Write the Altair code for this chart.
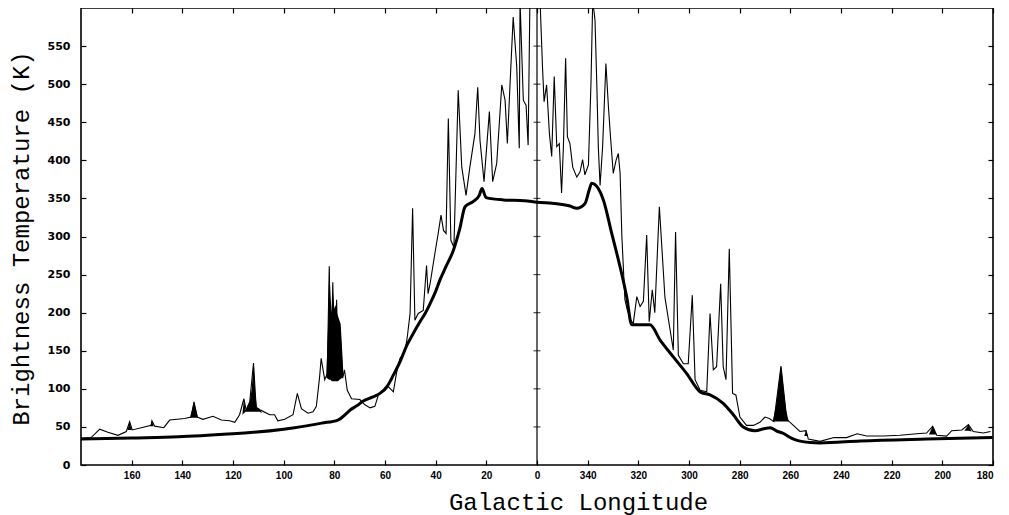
import altair as alt
import numpy as np
import pandas as pd

# ---- observed brightness temperature (thin trace), galactic longitude in degrees ----
thin_lon = [180.0, 176.0, 172.6, 169.4, 165.4, 162.1, 160.8, 159.8, 156.2, 152.3, 152.0, 150.9,
            147.3, 145.0, 139.1, 136.5, 135.4, 134.1, 131.9, 127.9, 124.6, 121.3, 119.3, 117.4,
            115.7, 114.8, 113.4, 111.9, 110.8, 109.1, 105.5, 103.6, 102.3, 99.6, 96.3, 94.6,
            93.0, 90.4, 88.4, 87.1, 85.8, 85.2, 83.8, 82.8, 82.0, 81.4, 80.6, 80.0, 79.1, 78.4,
            77.8, 76.7, 76.0, 74.9, 73.2, 69.9, 67.9, 65.9, 64.0, 62.6, 60.0, 58.7, 56.7, 55.4,
            54.1, 52.1, 51.2, 50.1, 49.1, 48.2, 46.9, 44.9, 43.6, 43.0, 42.2, 40.3, 39.0, 37.9,
            36.9, 35.9, 35.0, 34.0, 32.8, 31.1, 29.7, 28.0, 26.5, 24.5, 23.4, 22.5, 20.9, 18.8,
            17.5, 15.9, 13.9, 12.6, 11.7, 10.7, 9.4, 8.0, 7.0, 6.7, 5.4, 4.3, 3.5, 2.8, 1.5, 0.5,
            359.5, 358.8, 357.8, 357.2, 356.2, 355.1, 354.2, 353.2, 352.2, 351.2, 350.3, 349.6,
            348.7, 348.0, 347.0, 345.9, 344.3, 343.0, 342.0, 341.1, 339.7, 338.7, 338.0, 337.1,
            336.4, 335.8, 335.1, 334.1, 332.8, 331.8, 330.9, 329.9, 328.8, 327.9, 327.2, 326.5,
            325.3, 324.4, 323.0, 322.0, 320.6, 319.3, 318.0, 316.7, 315.7, 314.5, 313.5, 311.7,
            309.5, 306.2, 305.3, 304.2, 302.2, 300.3, 298.7, 297.6, 295.6, 293.0, 291.7, 290.4,
            289.1, 287.5, 286.5, 285.4, 284.1, 282.8, 281.5, 279.9, 277.3, 274.6, 272.0, 270.0,
            268.3, 266.5, 263.7, 261.4, 258.8, 256.2, 253.8, 252.9, 248.3, 242.8, 237.8, 233.6,
            229.9, 223.3, 216.7, 210.1, 206.2, 203.8, 202.2, 198.3, 196.3, 192.3, 189.7, 187.8,
            183.8, 181.0]
thin_tb = [35, 36, 47, 43, 39, 44, 57, 46, 49, 52, 58, 51,
           49, 59, 61, 63, 83, 63, 60, 64, 59, 58, 56, 66,
           87, 72, 83, 134, 72, 72, 66, 66, 58, 60, 66, 94,
           74, 68, 70, 77, 116, 140, 112, 120, 261, 116, 240, 125, 217, 112,
           181, 114, 125, 98, 87, 86, 79, 75, 77, 92, 98, 103, 96, 122,
           140, 149, 168, 199, 337, 190, 199, 203, 262, 225, 238, 278, 304, 328,
           308, 304, 455, 295, 286, 492, 391, 354, 391, 435, 496, 426, 372, 464,
           372, 396, 499, 479, 422, 496, 588, 523, 416, 610, 479, 472, 420, 610, 610, 610,
           610, 610, 520, 477, 499, 435, 405, 510, 418, 422, 357, 416,
           534, 431, 422, 391, 378, 385, 401, 381, 394, 501, 610, 584,
           501, 418, 367, 418, 527, 470, 427, 383, 400, 409, 383, 300,
           217, 204, 190, 186, 221, 208, 215, 302, 188, 230, 200, 339,
           220, 151, 306, 144, 133, 133, 223, 112, 98, 96, 199, 125,
           129, 238, 129, 112, 284, 94, 92, 63, 52, 52, 56, 63,
           61, 57, 130, 60, 52, 44, 45, 34, 31, 36, 36, 41,
           38, 38, 39, 41, 42, 51, 39, 38, 45, 46, 53, 44,
           42, 44]

# ---- smooth background (thick trace) ----
thick_lon = [180.0, 160.0, 141.7, 120.0, 115.4, 100.0, 95.7, 85.0, 78.6, 75.1, 73.8, 71.0,
             68.6, 65.0, 62.0, 59.0, 56.7, 54.0, 51.4, 48.8, 46.2, 44.0, 42.2, 40.0, 38.3,
             36.0, 33.0, 30.5, 28.4, 25.1, 22.8, 21.7, 20.1, 13.3, 5.0, 0.0,
             352.2, 347.0, 344.3, 341.1, 339.4, 338.4, 335.8, 333.8, 330.5, 327.2, 324.6,
             322.6, 315.4, 311.4, 306.2, 300.9, 295.6, 291.7, 286.5, 282.5, 278.6, 274.0,
             270.0, 268.0, 265.0, 263.0, 260.0, 257.0, 252.0, 248.3, 232.5, 206.2, 180.2]
thick_tb = [34, 35.5, 37, 41, 42, 47, 49, 55, 59, 68, 72, 78,
            84, 89, 94, 104, 118, 136, 157, 173, 188, 200, 212, 228, 243,
            260, 282, 310, 339, 346, 354, 363, 351, 348, 347, 345,
            343, 340, 337, 343, 361, 370, 363, 348, 304, 260, 221,
            184, 184, 164, 142, 120, 96, 92, 81, 66, 50, 45,
            48, 49, 44, 42, 36, 32, 29.5, 29, 31.5, 34, 36]

# ---- blackened line profiles (filled patches) ----
patch_id = (["A"] * 3 + ["B"] * 3 + ["C"] * 3 + ["D"] * 11 + ["E"] * 14 +
            ["F"] * 9 + ["G"] * 3 + ["H"] * 3 + ["I"] * 3)
patch_lon = [161.6, 160.8, 160.0,
             152.7, 152.0, 151.3,
             137.0, 135.4, 133.8,
             116.3, 115.7, 115.0, 114.2, 113.4, 112.6, 111.9, 111.2, 110.6, 109.5, 108.5,
             83.2, 82.5, 82.0, 81.5, 81.0, 80.5, 80.0, 79.5, 79.0, 78.5, 78.0, 77.5, 76.9, 76.4,
             267.0, 265.8, 265.0, 264.3, 263.7, 263.1, 262.5, 261.7, 260.6,
             254.5, 253.8, 253.1,
             205.3, 203.8, 202.4,
             191.3, 189.7, 188.4]
patch_lo = [46, 46, 46,
            51, 51, 51,
            62, 62, 62,
            66, 68, 70, 70, 70, 70, 70, 70, 70, 70, 68,
            115, 113, 112, 112, 110, 110, 110, 110, 110, 110, 112, 113, 115, 118,
            57, 57, 57, 57, 57, 57, 57, 57, 57,
            38, 38, 38,
            40, 40, 40,
            45, 45, 44]
patch_hi = [46, 57, 46,
            51, 58, 51,
            62, 83, 62,
            66, 87, 72, 78, 83, 100, 134, 95, 76, 74, 68,
            115, 180, 261, 220, 200, 225, 205, 210, 200, 195, 190, 185, 150, 118,
            57, 75, 95, 115, 130, 115, 95, 72, 57,
            38, 46, 38,
            40, 51, 40,
            45, 53, 44]

# ---- axis ticks ----
x_tick_lon = [160, 140, 120, 100, 80, 60, 40, 20, 0, 340, 320, 300, 280, 260, 240, 220, 200, 180]
y_ticks = [0, 50, 100, 150, 200, 250, 300, 350, 400, 450, 500, 550]
center_ticks = [50, 100, 150, 200, 250, 300, 350, 400, 450, 500, 550]


def signed(lon):
    a = np.asarray(lon, dtype=float)
    return np.where(a > 180, a - 360, a)


x_tick_vals = [float(v) for v in signed(x_tick_lon[:-1])] + [-180.0]

thin_df = pd.DataFrame({"p": signed(thin_lon), "tb": thin_tb})
thick_df = pd.DataFrame({"p": signed(thick_lon), "tb": thick_tb})
patch_df = pd.DataFrame({"id": patch_id, "p": signed(patch_lon), "lo": patch_lo, "hi": patch_hi})
center_df = pd.DataFrame({"p": [0.0]})
cticks_df = pd.DataFrame({"p": [0.0] * len(center_ticks), "tb": center_ticks})

xs = alt.Scale(domain=[180, -180], nice=False, zero=False)
ys = alt.Scale(domain=[0, 600], nice=False, zero=False)

bottom_axis = alt.Axis(orient="bottom", values=x_tick_vals,
                       labelExpr="datum.value < 0 ? datum.value + 360 : datum.value",
                       offset=-5, tickSize=5, tickColor="black", tickWidth=1.2,
                       domain=False, grid=False,
                       labelFont="Liberation Sans", labelFontWeight="bold", labelFontSize=10,
                       labelColor="black", labelPadding=5,
                       title="Galactic Longitude", titleFont="Liberation Mono",
                       titleFontSize=24, titleFontWeight="normal", titleColor="black",
                       titleX=497, titleY=42, titleBaseline="middle", titleAlign="center")
left_axis = alt.Axis(orient="left", values=y_ticks, offset=-5, tickSize=5,
                     tickColor="black", tickWidth=1.2, domain=False, grid=False,
                     labelFont="DejaVu Sans", labelFontWeight="bold", labelFontSize=11,
                     labelColor="black", labelPadding=11,
                     title="Brightness Temperature (K)", titleFont="Liberation Mono",
                     titleFontSize=24, titleFontWeight="normal", titleColor="black",
                     titleX=-65, titleY=230, titleBaseline="middle", titleAlign="center")
top_axis = alt.Axis(orient="top", values=x_tick_vals, offset=-5, tickSize=5,
                    tickColor="black", tickWidth=1.2, labels=False, domain=False,
                    grid=False, title=None)
right_axis = alt.Axis(orient="right", values=y_ticks, offset=-5, tickSize=5,
                      tickColor="black", tickWidth=1.2, labels=False, domain=False,
                      grid=False, title=None)

thin = alt.Chart(thin_df).mark_line(color="black", strokeWidth=1.1, clip=True).encode(
    x=alt.X("p:Q", scale=xs, axis=bottom_axis),
    y=alt.Y("tb:Q", scale=ys, axis=left_axis),
)
patches = alt.Chart(patch_df).mark_area(color="black", clip=True).encode(
    x=alt.X("p:Q", scale=xs, axis=None),
    y=alt.Y("lo:Q", scale=ys, axis=None),
    y2="hi:Q",
    detail="id:N",
)
thick = alt.Chart(thick_df).mark_line(color="black", strokeWidth=3, clip=True,
                                      interpolate="monotone").encode(
    x=alt.X("p:Q", scale=xs, axis=top_axis),
    y=alt.Y("tb:Q", scale=ys, axis=right_axis),
)
center = alt.Chart(center_df).mark_rule(color="black", strokeWidth=1.2).encode(
    x=alt.X("p:Q", scale=xs, axis=None),
)
cticks = alt.Chart(cticks_df).mark_tick(color="black", orient="horizontal", size=7,
                                         thickness=1.2).encode(
    x=alt.X("p:Q", scale=xs, axis=None),
    y=alt.Y("tb:Q", scale=ys, axis=None),
)

chart = alt.layer(thin, patches, thick, center, cticks).resolve_axis(
    x="independent", y="independent"
).properties(
    width=912, height=457, autosize="none",
    padding={"left": 73, "top": 0, "right": 8, "bottom": 50},
    background="white",
).configure_view(stroke="black", strokeWidth=1.6)

chart.save("out.html", embed_options={"renderer": "svg", "actions": False})
